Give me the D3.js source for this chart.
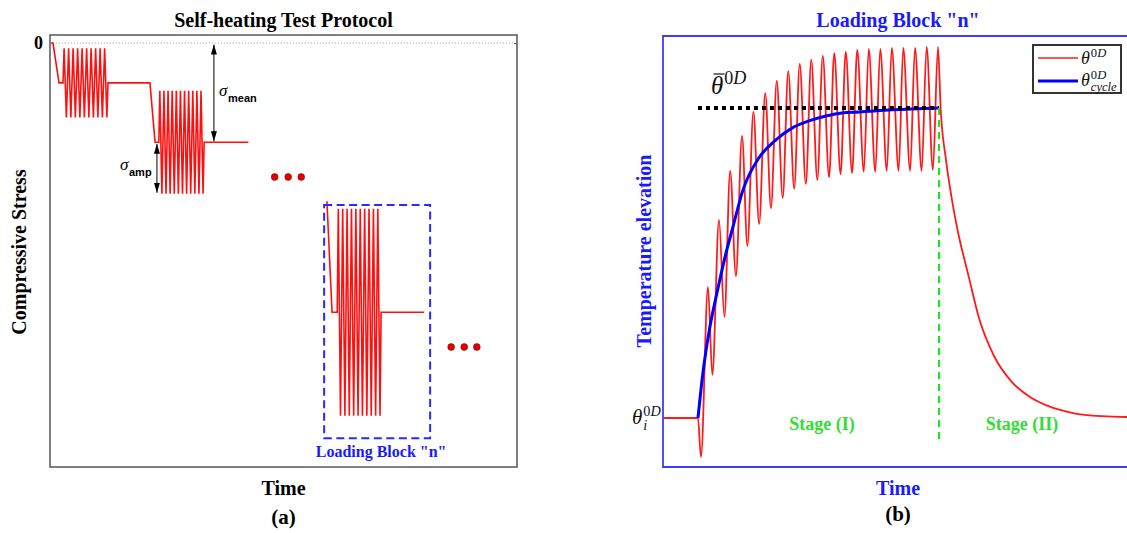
<!DOCTYPE html>
<html><head><meta charset="utf-8">
<script src="https://cdn.jsdelivr.net/npm/d3@7"></script>
<style>body{margin:0;background:#fff}svg{display:block}</style>
</head><body>
<svg id="c" width="1127" height="533"></svg>
<script>
// ================= DATA =================
// Panel (a): self-heating protocol, loading blocks 1, 2 and n
const blockNames      = ["1", "2", "n"];
const rampStartTime   = [0.64, 21.4, 59.3];
const rampStartStress = [0, -9.4, -37.3];
const rampEndTime     = [1.93, 22.5, 60.4];
const cycleStartTime  = [2.78, 23.3, 61.5];
const cycleEndTime    = [12.42, 33.0, 70.9];
const holdEndTime     = [21.4, 42.5, 80.1];
const meanStress      = [-9.4, -23.4, -63.5];
const ampStress       = [8.15, 12.15, 24.4];
const cycleCount      = [10, 11, 10];
const stressTicks     = [0];
const stressTickLabels= ["0"];
const ellipsisTimes   = [[48.1, 51.0, 53.8], [85.9, 88.7, 91.4]];
const ellipsisStress  = [-31.6, -71.7];
const boxTime         = [58.7, 81.4];
const boxStress       = [-38.2, -93.2];

// Panel (b): temperature elevation in loading block n
const redTime = [-3.04, 0, 0.26, 0.87, 1.25, 1.83, 2.3, 2.8, 3.3, 3.83, 4.3, 4.82, 5.32, 5.85,
  6.35, 6.85, 7.37, 7.85, 8.37, 8.85, 9.38, 9.85, 10.38, 10.85, 11.4, 11.85, 12.4, 12.85,
  13.4, 13.85, 14.42, 14.85, 15.42, 15.85, 16.42, 16.85, 17.45, 17.85, 18.45, 18.87, 19.45,
  19.88, 20.43, 20.87, 21.1, 21.57, 22.09, 22.61, 23.57, 24.43, 25.74, 27.3, 28.87, 30.43,
  32.61, 35.13, 37.74];
const redTemp = [0, 0, -12.6, 42.3, 13.9, 63.9, 32.6, 79.7, 45.8, 91.0, 55.5, 98.7, 62.6, 104.8,
  67.7, 108.7, 71.0, 111.9, 73.9, 114.2, 75.5, 115.5, 76.8, 116.8, 77.7, 117.7, 78.7, 118.1,
  79.0, 118.7, 79.4, 119.0, 79.4, 119.0, 79.7, 119.4, 79.7, 119.4, 79.7, 119.4, 79.7,
  119.7, 80.0, 119.7, 100, 83.2, 70.3, 60.0, 45.2, 32.3, 20.0, 11.6, 6.8, 3.9,
  1.6, 0.6, 0.3];
const blueTime = [0, 0.43, 1.04, 1.65, 2.35, 3.04, 3.91, 5.3, 6.78, 8.17, 9.65, 11.13, 12.52, 14.0, 16.87, 20.96];
const blueTemp = [0, 14.5, 29.4, 40.3, 51.9, 61.6, 73.5, 83.9, 89.7, 93.5, 95.8, 97.4, 98.4, 98.7, 99.4, 100];
const meanLineTime = [0, 20.96];
const meanLineTemp = 100;
const stageBoundaryTime = 20.96;
const stageBoundaryTemp = [100, -8.1];
const initialTemp = 0;
const stageNames = ["Stage (I)", "Stage (II)"];

// ================= DRAW =================
const SERIF = "'Liberation Serif','Times New Roman',serif";
const SANS = "'Liberation Sans',Arial,sans-serif";
const svg = d3.select("#c");

// ---------- Panel (a) ----------
const xA = d3.scaleLinear().domain([0, 100]).range([50, 517]);
const yA = d3.scaleLinear().domain([1.9, -100]).range([35, 467]);
const gA = svg.append("g");

gA.append("line").attr("x1", xA(0.6)).attr("x2", xA(99.3)).attr("y1", yA(0)).attr("y2", yA(0))
  .attr("stroke", "#999").attr("stroke-width", 1).attr("stroke-dasharray", "1,2");

gA.append("rect").attr("x", xA(0)).attr("y", yA(1.9)).attr("width", xA(100) - xA(0))
  .attr("height", yA(-100) - yA(1.9)).attr("fill", "none").attr("stroke", "#555").attr("stroke-width", 1.5);

const axL = gA.append("g").attr("transform", `translate(${xA(0)},0)`)
  .call(d3.axisLeft(yA).tickValues(stressTicks).tickFormat((d, i) => stressTickLabels[i]).tickSize(0).tickPadding(7));
axL.select(".domain").remove();
axL.selectAll("text").attr("font-family", SERIF).attr("font-weight", "bold").attr("font-size", 18).attr("fill", "#000");
const axR = gA.append("g").attr("transform", `translate(${xA(100)},0)`)
  .call(d3.axisLeft(yA).tickValues(stressTicks).tickFormat("").tickSize(3));
axR.select(".domain").remove();
axR.selectAll("line").attr("stroke", "#555");

function blockPoints(i) {
  const pts = [[rampStartTime[i], rampStartStress[i]], [rampEndTime[i], meanStress[i]], [cycleStartTime[i], meanStress[i]]];
  const P = (cycleEndTime[i] - cycleStartTime[i]) / cycleCount[i];
  for (let k = 0; k < cycleCount[i]; k++) {
    const t0 = cycleStartTime[i] + k * P;
    pts.push([t0 + 0.25 * P, meanStress[i] + ampStress[i]]);
    pts.push([t0 + 0.75 * P, meanStress[i] - ampStress[i]]);
  }
  pts.push([cycleEndTime[i], meanStress[i]]);
  pts.push([holdEndTime[i], meanStress[i]]);
  return pts;
}
const lineA = d3.line().x(d => xA(d[0])).y(d => yA(d[1]));
const path12 = [[0.2, 0]].concat(blockPoints(0), blockPoints(1));
gA.append("path").attr("d", lineA(path12)).attr("fill", "none").attr("stroke", "#ff1010").attr("stroke-width", 1.6);
gA.append("path").attr("d", lineA(blockPoints(2))).attr("fill", "none").attr("stroke", "#ff1010").attr("stroke-width", 1.6);

// dashed box around block n
gA.append("rect").attr("x", xA(boxTime[0])).attr("y", yA(boxStress[0]))
  .attr("width", xA(boxTime[1]) - xA(boxTime[0])).attr("height", yA(boxStress[1]) - yA(boxStress[0]))
  .attr("fill", "none").attr("stroke", "#2a2aff").attr("stroke-width", 2).attr("stroke-dasharray", "8,4.5");
gA.append("text").attr("x", xA(70.9)).attr("y", yA(-96.5) + 5).attr("text-anchor", "middle")
  .attr("font-family", SERIF).attr("font-weight", "bold").attr("font-size", 16).attr("fill", "#1a1aff")
  .text('Loading Block "n"');

// ellipsis dots
ellipsisTimes.forEach((ts, j) => ts.forEach(t => {
  gA.append("circle").attr("cx", xA(t)).attr("cy", yA(ellipsisStress[j])).attr("r", 3.4)
    .attr("fill", "#e00000").attr("stroke", "#900").attr("stroke-width", 0.6);
}));

// arrows
const defs = svg.append("defs");
defs.append("marker").attr("id", "ah").attr("viewBox", "0 0 10 6").attr("refX", 10).attr("refY", 3)
  .attr("markerWidth", 10).attr("markerHeight", 6).attr("markerUnits", "userSpaceOnUse").attr("orient", "auto-start-reverse")
  .append("path").attr("d", "M0,0 L10,3 L0,6 Z").attr("fill", "#000");
function dblArrow(t, s0, s1) {
  gA.append("line").attr("x1", xA(t)).attr("x2", xA(t)).attr("y1", yA(s0) + 1.5).attr("y2", yA(s1) - 1)
    .attr("stroke", "#000").attr("stroke-width", 1).attr("marker-start", "url(#ah)").attr("marker-end", "url(#ah)");
}
dblArrow(35.1, 0, meanStress[1]);
dblArrow(22.9, meanStress[1], meanStress[1] - ampStress[1]);
function sigmaLabel(x, y, sub) {
  gA.append("text").attr("x", x).attr("y", y).attr("font-family", SERIF).attr("font-style", "italic")
    .attr("font-size", 17).attr("fill", "#000").text("σ");
  gA.append("text").attr("x", x + 9).attr("y", y + 6).attr("font-family", SANS).attr("font-weight", "bold")
    .attr("font-size", 11).attr("fill", "#000").text(sub);
}
sigmaLabel(219, 96, "mean");
sigmaLabel(120, 170, "amp");

// titles & labels panel (a)
const cxA = (xA(0) + xA(100)) / 2;
gA.append("text").attr("x", cxA).attr("y", 26.5).attr("text-anchor", "middle").attr("font-family", SERIF)
  .attr("font-weight", "bold").attr("font-size", 20).text("Self-heating Test Protocol");
gA.append("text").attr("x", cxA).attr("y", 495).attr("text-anchor", "middle").attr("font-family", SERIF)
  .attr("font-weight", "bold").attr("font-size", 20).text("Time");
gA.append("text").attr("x", cxA).attr("y", 524).attr("text-anchor", "middle").attr("font-family", SERIF)
  .attr("font-weight", "bold").attr("font-size", 21).text("(a)");
gA.append("text").attr("transform", "translate(26,252) rotate(-90)").attr("text-anchor", "middle")
  .attr("font-family", SERIF).attr("font-weight", "bold").attr("font-size", 20).text("Compressive Stress");

// ---------- Panel (b) ----------
const xB = d3.scaleLinear().domain([-3.04, 37.74]).range([663, 1132]);
const yB = d3.scaleLinear().domain([-15.8, 123.2]).range([467, 36]);
const gB = svg.append("g");
const frameBlue = "#3c3cff";
gB.append("path").attr("d", `M${xB(37.74)},${yB(123.2)} H${xB(-3.04)} V${yB(-15.8)} H${xB(37.74)}`)
  .attr("fill", "none").attr("stroke", frameBlue).attr("stroke-width", 1.8);

const curve = d3.line().curve(d3.curveMonotoneX).x(d => xB(d[0])).y(d => yB(d[1]));
gB.append("path").attr("d", curve(redTime.map((t, i) => [t, redTemp[i]])))
  .attr("fill", "none").attr("stroke", "#ff1a1a").attr("stroke-width", 1.8).attr("stroke-linejoin", "round");
gB.append("path").attr("d", curve(blueTime.map((t, i) => [t, blueTemp[i]])))
  .attr("fill", "none").attr("stroke", "#0000ff").attr("stroke-width", 3);
gB.append("line").attr("x1", xB(meanLineTime[0])).attr("x2", xB(meanLineTime[1]))
  .attr("y1", yB(meanLineTemp)).attr("y2", yB(meanLineTemp))
  .attr("stroke", "#000").attr("stroke-width", 4).attr("stroke-dasharray", "4,4");
gB.append("line").attr("x1", xB(stageBoundaryTime)).attr("x2", xB(stageBoundaryTime))
  .attr("y1", yB(stageBoundaryTemp[0])).attr("y2", yB(stageBoundaryTemp[1]))
  .attr("stroke", "#22e022").attr("stroke-width", 2.2).attr("stroke-dasharray", "7,5");

// math labels
function theta(g, x, y, size, opts) {
  const t = g.append("text").attr("x", x).attr("y", y).attr("font-family", SERIF).attr("font-style", "italic")
    .attr("font-size", size).attr("fill", "#111").text("θ");
  const w = t.node().getComputedTextLength();
  if (opts.bar) g.append("line").attr("x1", x + size * 0.1).attr("x2", x + w + size * 0.05)
    .attr("y1", y - size * 0.8).attr("y2", y - size * 0.8).attr("stroke", "#111").attr("stroke-width", 1.2);
  const ss = size * (opts.ratio || 0.68);
  if (opts.sup) {
    const s = g.append("text").attr("x", x + w + 1).attr("y", y - size * 0.4).attr("font-family", SERIF)
      .attr("font-size", ss).attr("fill", "#111");
    s.append("tspan").text("0");
    s.append("tspan").attr("font-style", "italic").text("D");
  }
  if (opts.sub) g.append("text").attr("x", x + w + 1).attr("y", y + size * 0.28).attr("font-family", SERIF)
    .attr("font-style", "italic").attr("font-size", ss).attr("fill", "#111").text(opts.sub);
}
theta(gB, 711, 94, 25, {bar: true, sup: true, ratio: 0.72});
theta(gB, 632, yB(initialTemp) + 6, 21, {sup: true, sub: "i"});

// stage labels
gB.append("text").attr("x", xB(10.78)).attr("y", yB(initialTemp) + 12).attr("text-anchor", "middle")
  .attr("font-family", SERIF).attr("font-weight", "bold").attr("font-size", 18).attr("fill", "#33dd33").text(stageNames[0]);
gB.append("text").attr("x", xB(28.17)).attr("y", yB(initialTemp) + 12).attr("text-anchor", "middle")
  .attr("font-family", SERIF).attr("font-weight", "bold").attr("font-size", 18).attr("fill", "#33dd33").text(stageNames[1]);

// legend
const lg = gB.append("g");
lg.append("rect").attr("x", 1033).attr("y", 45).attr("width", 88).attr("height", 48)
  .attr("fill", "#fff").attr("stroke", "#333").attr("stroke-width", 2);
lg.append("line").attr("x1", 1038).attr("x2", 1078).attr("y1", 58).attr("y2", 58).attr("stroke", "#ff1a1a").attr("stroke-width", 1.5);
lg.append("line").attr("x1", 1038).attr("x2", 1078).attr("y1", 81).attr("y2", 81).attr("stroke", "#0000ff").attr("stroke-width", 3);
theta(lg, 1081, 64, 18, {sup: true, ratio: 0.7});
theta(lg, 1081, 86, 18, {sup: true, sub: "cycle", ratio: 0.7});

// titles & labels panel (b)
const cxB = 898;
gB.append("text").attr("x", cxB).attr("y", 26.5).attr("text-anchor", "middle").attr("font-family", SERIF)
  .attr("font-weight", "bold").attr("font-size", 20).attr("fill", "#1a1aff").text('Loading Block "n"');
gB.append("text").attr("x", cxB).attr("y", 495).attr("text-anchor", "middle").attr("font-family", SERIF)
  .attr("font-weight", "bold").attr("font-size", 20).attr("fill", "#1a1aff").text("Time");
gB.append("text").attr("x", cxB).attr("y", 521).attr("text-anchor", "middle").attr("font-family", SERIF)
  .attr("font-weight", "bold").attr("font-size", 21).text("(b)");
gB.append("text").attr("transform", "translate(651,251) rotate(-90)").attr("text-anchor", "middle")
  .attr("font-family", SERIF).attr("font-weight", "bold").attr("font-size", 20).attr("fill", "#1a1aff")
  .text("Temperature elevation");
</script>
</body></html>
